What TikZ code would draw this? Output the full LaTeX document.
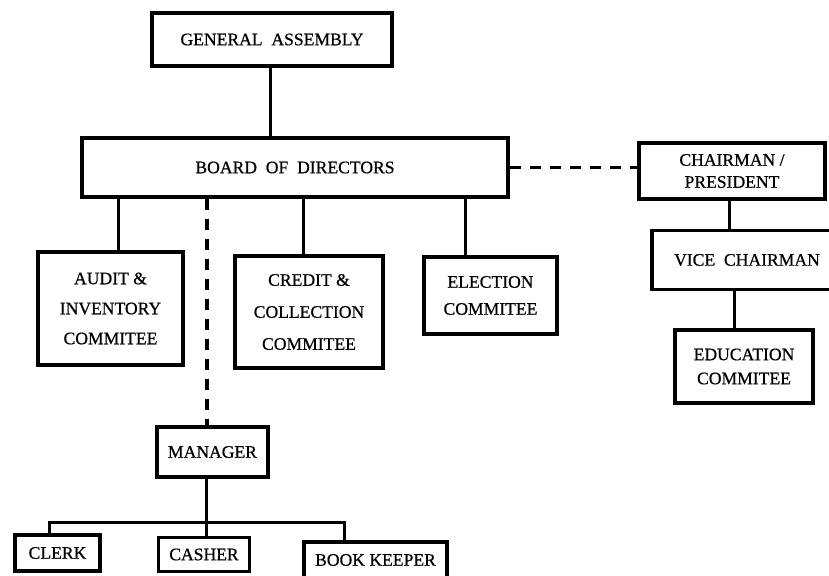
\documentclass[tikz,border=0pt]{standalone}
\usepackage{fontspec}
\setmainfont[FakeBold=0.6]{Liberation Serif}
\begin{document}
\begin{tikzpicture}[x=1pt,y=-1pt,
  box/.style={draw, line width=3.2pt, align=center, inner sep=0pt,
              font=\fontsize{17.6}{20}\selectfont},
  conn/.style={line width=3pt},
  dconn/.style={line width=3.4pt, dash pattern=on 11pt off 9pt}]
\useasboundingbox (0,0) rectangle (829,575);
\clip (0,0) rectangle (829,575);
\fill[white] (0,0) rectangle (829,575);

\node[box, minimum width=240pt, minimum height=53pt] (ga) at (272,39.5) {GENERAL\ \ ASSEMBLY};
\node[box, minimum width=426pt, minimum height=59pt] (board) at (295,167.5) {BOARD\ \ OF\ \ DIRECTORS};
\node[box, minimum width=186pt, minimum height=56pt] (chair) at (732,171) {CHAIRMAN /\\[2pt]PRESIDENT};
\node[box, minimum width=190pt, minimum height=59pt] (vc) at (747,260) {VICE\ \ CHAIRMAN};
\node[box, minimum width=138pt, minimum height=73pt] (edu) at (744,366.5) {EDUCATION\\[4pt]COMMITEE};
\node[box, minimum width=145pt, minimum height=113pt] (audit) at (110.5,308.5) {AUDIT \&\\[10pt]INVENTORY\\[10pt]COMMITEE};
\node[box, minimum width=148pt, minimum height=112pt] (credit) at (309,312) {CREDIT \&\\[12pt]COLLECTION\\[12pt]COMMITEE};
\node[box, minimum width=133pt, minimum height=77pt] (election) at (490.5,295.5) {ELECTION\\[7pt]COMMITEE};
\node[box, minimum width=111pt, minimum height=50pt] (manager) at (212.5,452) {MANAGER};
\node[box, minimum width=85pt, minimum height=36pt] (clerk) at (57.5,553) {CLERK};
\node[box, minimum width=91pt, minimum height=34pt] (casher) at (204,554.5) {CASHER};
\node[box, minimum width=143pt, minimum height=36pt] (book) at (375.5,560) {BOOK KEEPER};

% solid connectors
\coordinate (pG) at ([xshift=-2pt]ga.south);
\draw[conn] (pG) -- (pG |- board.north);
\coordinate (pA) at ([xshift=7.5pt]audit.north);
\draw[conn] (pA) -- (pA |- board.south);
\coordinate (pC) at ([xshift=-6pt]credit.north);
\draw[conn] (pC) -- (pC |- board.south);
\coordinate (pE) at ([xshift=-25.5pt]election.north);
\draw[conn] (pE) -- (pE |- board.south);
\coordinate (pH) at ([xshift=-3pt]chair.south);
\draw[conn] (pH) -- (pH |- vc.north);
\coordinate (pV) at ([xshift=-10pt]edu.north);
\draw[conn] (pV) -- (pV |- vc.south);

% dashed connectors
\draw[dconn] (board.east) -- (board.east -| chair.west);
\coordinate (pM) at ([xshift=-5.5pt]manager.north);
\draw[dconn] (pM |- board.south) -- (pM);

% manager to staff
\coordinate (pMo) at ([xshift=-6.5pt]manager.south);
\coordinate (bus) at (206,522);
\draw[conn] (pMo) -- (pMo |- casher.north);
\coordinate (pK) at ([xshift=-8.5pt]clerk.north);
\coordinate (pB) at ([xshift=-31.5pt]book.north);
\draw[conn] (pK) -- (pK |- bus) -- (pB |- bus) -- (pB);
\end{tikzpicture}
\end{document}
